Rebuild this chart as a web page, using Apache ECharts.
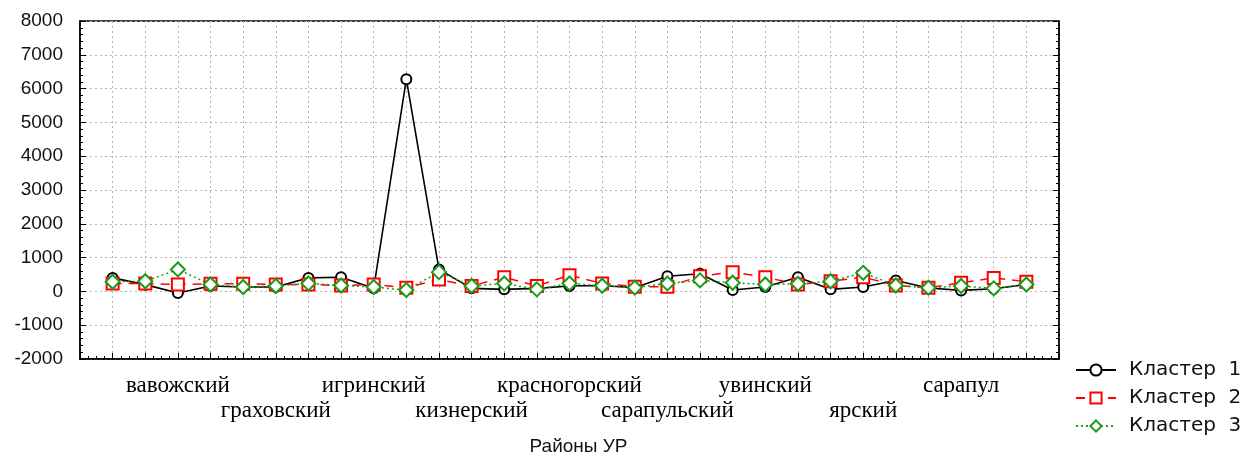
<!DOCTYPE html>
<html>
<head>
<meta charset="utf-8">
<style>
  html, body { margin: 0; padding: 0; background: #fff; }
  #main { width: 1247px; height: 461px; }
</style>
<script src="https://cdn.jsdelivr.net/npm/echarts@6/dist/echarts.min.js"></script>
</head>
<body>
<div id="main"></div>
<script>
// районы (точки 1..29), подписи выводятся у каждой третьей
const districts = [
  "алнашский", "балезинский", "вавожский", "воткинский", "глазовский",
  "граховский", "дебесский", "завьяловский", "игринский", "камбарский",
  "каракулинский", "кизнерский", "киясовский", "кезский", "красногорский",
  "малопургинский", "можгинский", "сарапульский", "селтинский", "сюмсинский",
  "увинский", "шарканский", "юкаменский", "ярский", "ижевск",
  "воткинск", "сарапул", "глазов", "можга"
];
const seriesNames = ["Кластер 1", "Кластер 2", "Кластер 3"];
const cluster1 = [400, 200, -50, 160, 130, 130, 400, 420, 90, 6280,
  650, 90, 60, 90, 160, 175, 110, 450, 520, 40,
  130, 420, 60, 130, 325, 100, 30, 80, 205];
const cluster2 = [235, 235, 205, 225, 225, 205, 205, 175, 205, 110,
  350, 160, 420, 160, 480, 235, 140, 140, 450, 570,
  420, 205, 300, 420, 175, 110, 255, 400, 285];
const cluster3 = [285, 300, 650, 205, 130, 160, 235, 175, 130, 40,
  570, 160, 235, 60, 235, 165, 110, 235, 325, 255,
  205, 225, 300, 550, 175, 110, 160, 90, 205];
const yTicks = { min: -2000, max: 8000, step: 1000 };

const toPoints = arr => arr.map((v, i) => [i + 1, v]);

const gridLine = { show: true, lineStyle: { color: "#b4b4b4", type: [2, 3], width: 1 } };

const chartDom = document.getElementById("main");
const myChart = echarts.init(chartDom);
const option = {
  backgroundColor: "#fff",
  animation: false,
  grid: {
    left: 80, right: 188, top: 21, bottom: 100,
    show: true, borderColor: "#000", borderWidth: 1.5
  },
  legend: {
    orient: "vertical",
    left: 1070,
    top: 355,
    itemWidth: 40,
    itemHeight: 14,
    itemGap: 8,
    formatter: name => name.replace(" ", "  "),
    textStyle: {
      fontFamily: "DejaVu Sans", fontSize: 20, color: "#111",
      padding: [0, 0, 0, 8]
    },
    data: seriesNames
  },
  xAxis: {
    type: "value",
    min: 0,
    max: 30,
    interval: 1,
    name: "Районы УР",
    nameLocation: "middle",
    nameGap: 78,
    nameTextStyle: {
      fontFamily: "Liberation Sans", fontSize: 19, color: "#111",
      padding: [0, 0, 0, 18]
    },
    axisLine: { show: true, onZero: false, lineStyle: { color: "#000", width: 1.5 } },
    axisTick: { show: true, inside: true, length: 6, lineStyle: { color: "#000" } },
    minorTick: { show: true, splitNumber: 4, length: 3, lineStyle: { color: "#000" } },
    splitLine: gridLine,
    axisLabel: {
      margin: 14,
      lineHeight: 25,
      fontFamily: "Liberation Serif",
      fontSize: 23,
      color: "#000",
      formatter: function (val) {
        if (val < 1 || val > 29 || val % 3 !== 0) return "";
        const name = districts[val - 1];
        return (val / 3) % 2 === 1 ? name : "\n" + name;
      }
    }
  },
  yAxis: [
    {
      type: "value",
      min: yTicks.min,
      max: yTicks.max,
      interval: yTicks.step,
      axisLine: { show: true, onZero: false, lineStyle: { color: "#000", width: 1.5 } },
      axisTick: { show: true, inside: true, length: 6, lineStyle: { color: "#000" } },
      minorTick: { show: true, splitNumber: 5, length: 3, lineStyle: { color: "#000" } },
      splitLine: gridLine,
      axisLabel: {
        margin: 17,
        fontFamily: "Liberation Sans",
        fontSize: 19,
        color: "#111",
        formatter: v => String(v)
      }
    },
    {
      type: "value",
      position: "right",
      min: yTicks.min,
      max: yTicks.max,
      interval: yTicks.step,
      axisLine: { show: true, onZero: false, lineStyle: { color: "#000", width: 1.5 } },
      axisTick: { show: true, inside: true, length: 6, lineStyle: { color: "#000" } },
      minorTick: { show: true, splitNumber: 5, length: 3, lineStyle: { color: "#000" } },
      splitLine: { show: false },
      axisLabel: { show: false }
    }
  ],
  series: [
    {
      name: seriesNames[0],
      type: "line",
      data: toPoints(cluster1),
      symbol: "emptyCircle",
      symbolSize: 10,
      lineStyle: { color: "#000", width: 1.6, type: "solid" },
      itemStyle: { color: "#000", borderWidth: 1.3 }
    },
    {
      name: seriesNames[1],
      type: "line",
      data: toPoints(cluster2),
      symbol: "emptyRect",
      symbolSize: 12,
      lineStyle: { color: "#ff0000", width: 1.5, type: [9, 7] },
      itemStyle: { color: "#ff0000", borderWidth: 1.3 }
    },
    {
      name: seriesNames[2],
      type: "line",
      data: toPoints(cluster3),
      symbol: "emptyDiamond",
      symbolSize: 14,
      lineStyle: { color: "#1a9c1a", width: 1.5, type: [2, 3] },
      itemStyle: { color: "#1a9c1a", borderWidth: 1.3 }
    }
  ]
};
option && myChart.setOption(option);
</script>
</body>
</html>
